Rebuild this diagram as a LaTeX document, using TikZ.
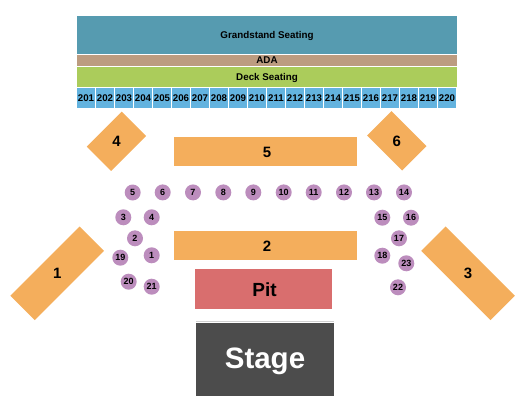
\documentclass[tikz,border=0pt]{standalone}
\usepackage{fontspec}
\setmainfont{Liberation Sans}
\usetikzlibrary{positioning}
\definecolor{grandstand}{HTML}{569BB0}
\definecolor{ada}{HTML}{BC9C80}
\definecolor{deck}{HTML}{ABCC5B}
\definecolor{sectionblue}{HTML}{63B3DF}
\definecolor{floorbox}{HTML}{F4AE5C}
\definecolor{tablecol}{HTML}{BC8DBD}
\definecolor{pitred}{HTML}{D96E6E}
\definecolor{stagegray}{HTML}{4C4C4C}
\begin{document}
\begin{tikzpicture}[
  x=1pt, y=-1pt,
  font=\bfseries,
  block/.style={rectangle, inner sep=0pt, outer sep=0pt, align=center},
  topband/.style={block, text height=7pt, text depth=0pt, minimum width=380pt, font=\bfseries\fontsize{9.8}{10}\selectfont},
  sectionbox/.style={block, fill=sectionblue, minimum width=18pt, minimum height=20pt, font=\bfseries\fontsize{9.7}{10}\selectfont},
  floor/.style={block, fill=floorbox},
  floorlabel/.style={font=\bfseries\fontsize{15}{16}\selectfont, inner sep=0pt},
  tablenode/.style={circle, fill=tablecol, inner sep=0pt, minimum size=16pt, font=\bfseries\fontsize{9}{10}\selectfont}
]
\useasboundingbox (0,0) rectangle (525,412);
% top bands
\node[topband, fill=grandstand, minimum height=38pt] (grand) at (267,35) {Grandstand Seating};
\node[topband, fill=ada, minimum height=11pt] (adarow) at (267,60.5) {ADA};
\node[topband, fill=deck, minimum height=20pt] (deckrow) at (267,77) {Deck Seating};
\foreach \num [evaluate=\num as \x using 86+19*(\num-201)] in {201,...,220}
  \node[sectionbox] (sec\num) at (\x,98) {\num};
% angled floor sections
\node[floor, minimum width=98pt, minimum height=34.5pt, rotate=45] (fl1) at (57.2,273.4) {};
\node[floorlabel] at (fl1) {1};
\node[floor, minimum width=98pt, minimum height=34.5pt, rotate=-45] (fl3) at (468,273.3) {};
\node[floorlabel] at (fl3) {3};
\node[floor, minimum width=49.5pt, minimum height=34.5pt, rotate=45] (fl4) at (116.5,141.3) {};
\node[floorlabel] at (fl4) {4};
\node[floor, minimum width=49.5pt, minimum height=34.5pt, rotate=-45] (fl6) at (396.8,140.9) {};
\node[floorlabel] at (fl6) {6};
% straight floor sections
\node[floor, minimum width=183pt, minimum height=29pt] (fl5) at (265.5,151.5) {};
\node[floorlabel] at ([xshift=1.5pt,yshift=-0.5pt]fl5) {5};
\node[floor, minimum width=183pt, minimum height=29pt] (fl2) at (265.5,245.5) {};
\node[floorlabel] at ([xshift=1.5pt,yshift=-0.5pt]fl2) {2};
\node[block, fill=pitred, minimum width=137pt, minimum height=40pt] (pit) at (263.5,289) {};
\node[text height=13.6pt, text depth=0pt, font=\bfseries\fontsize{19}{20}\selectfont, inner sep=0pt] at ([xshift=1pt,yshift=-1pt]pit) {Pit};
\node[block, fill=black!18, minimum width=138pt, minimum height=1pt] (stageedge) at (265,321.3) {};
\node[block, fill=stagegray, minimum width=138pt, minimum height=73pt] (stage) at (265,359.2) {};
\node[text height=21.1pt, text depth=0pt, text=white, font=\bfseries\fontsize{29.5}{30}\selectfont, inner sep=0pt] at ([yshift=1.4pt]stage) {Stage};
% tables
\foreach \num/\x/\y in {1/151.7/255.3, 2/135/238.3, 3/123.3/217.3, 4/151.7/217.3, 5/132.7/192.5,
    6/162.7/192.4, 7/193/192.4, 8/223.3/192.4, 9/253.3/192.4, 10/283.7/192.4, 11/313.7/192.4,
    12/344/192.4, 13/374/192.4, 14/404/192.4, 15/382.3/217.7, 16/411/217.7, 17/399/238.3,
    18/382.3/255.7, 19/120.3/257.7, 20/128.7/281.7, 21/151.7/286.7, 22/398/287.3, 23/406.3/263.3}
  \node[tablenode] (tbl\num) at (\x,\y) {\num};
\end{tikzpicture}
\end{document}
